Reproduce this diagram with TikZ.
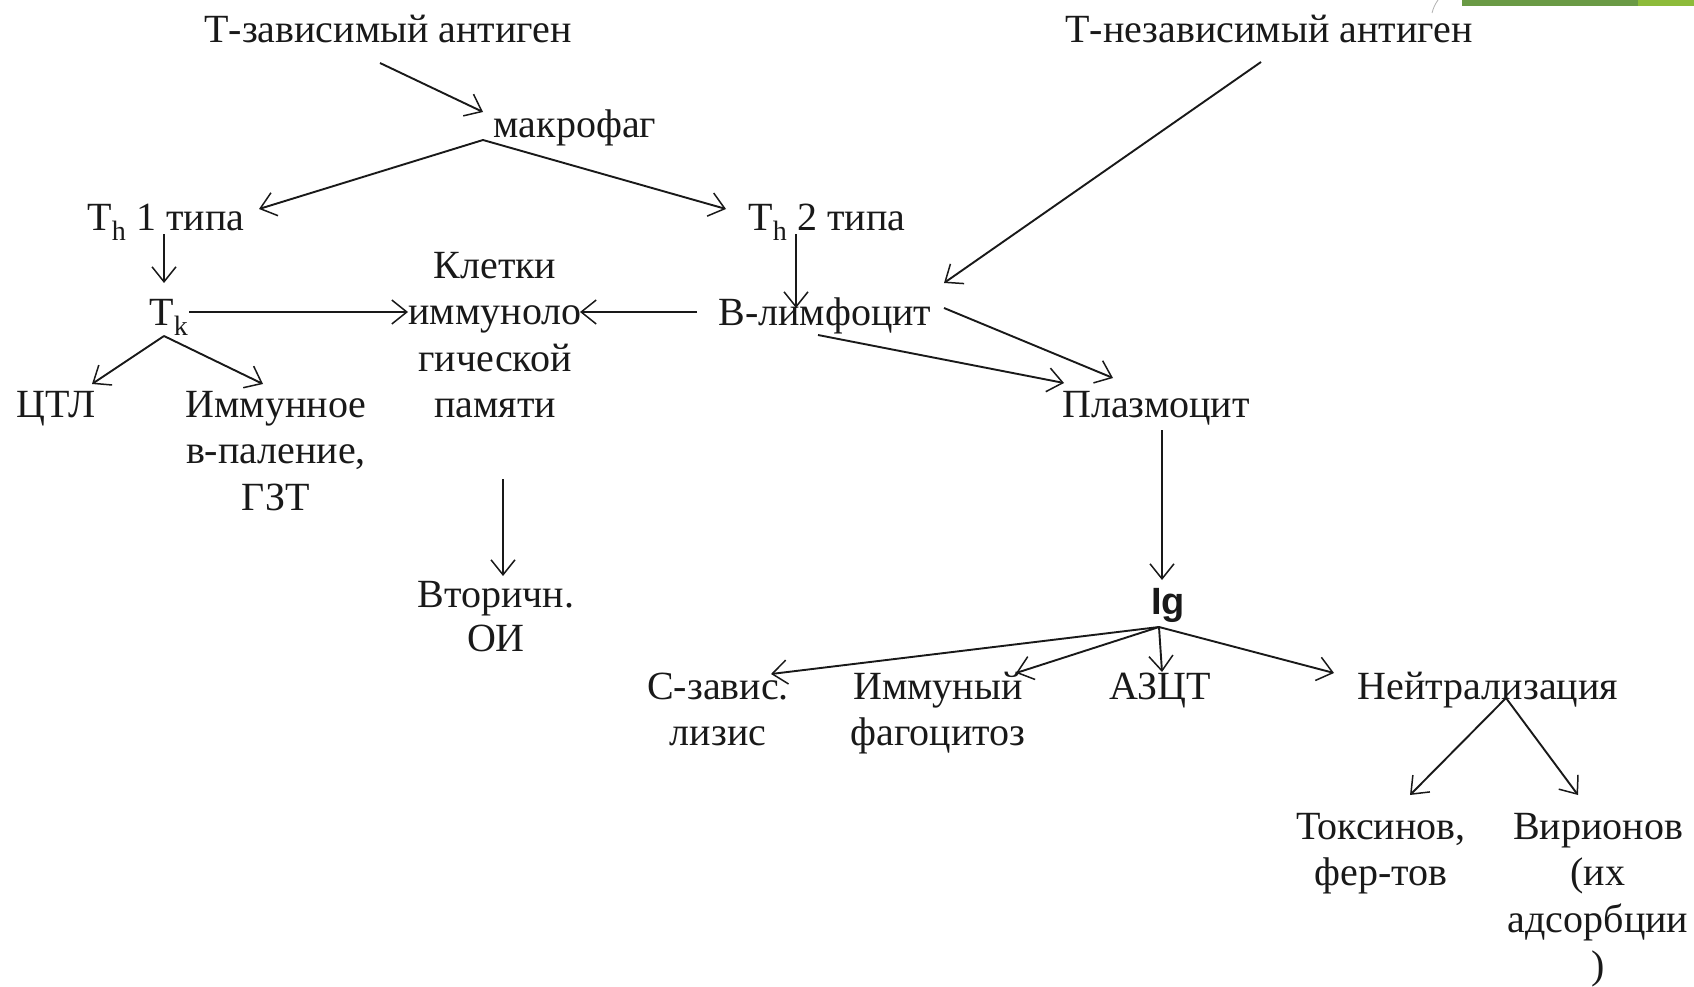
\documentclass[tikz,border=0pt]{standalone}
\usepackage{fontspec}
\setmainfont{Liberation Serif}
\newfontfamily\igfont{Liberation Sans}
\usetikzlibrary{arrows.meta}
\definecolor{bardark}{HTML}{6A9A45}
\definecolor{barlight}{HTML}{8DBB3A}
\begin{document}
\begin{tikzpicture}[x=1pt,y=-1pt,
  lbl/.style={inner sep=0pt, anchor=base, align=center,
    font=\fontsize{40}{46.5}\selectfont, text=black!90},
  arr/.style={-{Straight Barb[length=15pt,width=24pt,line width=1.5pt]},
    line width=1.9pt, black!90}]
\useasboundingbox (0,0) rectangle (1694,987);
\fill[white] (0,0) rectangle (1694,987);

% slide decoration in the top right corner
\fill[bardark] (1462,0) rectangle (1638,6);
\fill[barlight] (1638,0) rectangle (1694,6);
\draw[gray!60, line width=0.8pt] (1432,13) to[bend left=10] (1438,0);

% labels (multi-line labels are placed by the baseline of their last line)
\node[lbl] (tdep) at (388,43) {Т-зависимый антиген};
\node[lbl] (tind) at (1269,43) {Т-независимый антиген};
\node[lbl] (mac)  at (575,138) {макрофаг};
\node[lbl] (th1)  at (166,230) {T\textsubscript{h} 1 типа};
\node[lbl] (th2)  at (827,230) {T\textsubscript{h} 2 типа};
\node[lbl] (tk)   at (169,325) {T\textsubscript{k}};
\node[lbl] (mem)  at (495,417.5) {Клетки\\иммуноло\\гической\\памяти};
\node[lbl] (bl)   at (825,325) {В-лимфоцит};
\node[lbl] (ctl)  at (56,417) {ЦТЛ};
\node[lbl] (inf)  at (276,510) {Иммунное\\в-паление,\\ГЗТ};
\node[lbl] (pl)   at (1156,417) {Плазмоцит};
\node[lbl, font=\fontsize{40}{44}\selectfont] (sec) at (496,651) {Вторичн.\\ОИ};
\node[lbl, font=\igfont\bfseries\fontsize{38}{44}\selectfont] (ig) at (1168,614) {Ig};
\node[lbl] (clys) at (718,745.5) {С-завис.\\лизис};
\node[lbl] (phag) at (938,745.5) {Иммуный\\фагоцитоз};
\node[lbl] (adcc) at (1160,699) {АЗЦТ};
\node[lbl] (neut) at (1488,699) {Нейтрализация};
\node[lbl] (tox)  at (1381,885.5) {Токсинов,\\фер-тов};
\node[lbl] (vir)  at (1598,978.5) {Вирионов\\(их\\адсорбции\\)};

% connector end points
\coordinate (tdepS) at (380,63);
\coordinate (macIn) at (483,112);
\coordinate (macS)  at (483,140);
\coordinate (th1In) at (259,209);
\coordinate (th2In) at (726,209);
\coordinate (th1S)  at (164,234);
\coordinate (tkIn)  at (164,283);
\coordinate (tkE)   at (189,312);
\coordinate (memW)  at (408,312);
\coordinate (memE)  at (580,312);
\coordinate (blW)   at (697,312);
\coordinate (th2S)  at (796,234);
\coordinate (blIn)  at (796,308);
\coordinate (tindS) at (1261,62);
\coordinate (blNE)  at (944,283);
\coordinate (blS)   at (818,335);
\coordinate (blE)   at (944,308);
\coordinate (plW)   at (1064,383);
\coordinate (plN)   at (1113,378);
\coordinate (tkS)   at (164,336);
\coordinate (ctlIn) at (92,384);
\coordinate (infIn) at (263,384);
\coordinate (memS)  at (503,479);
\coordinate (secIn) at (503,576);
\coordinate (plS)   at (1162,430);
\coordinate (igIn)  at (1162,580);
\coordinate (igS)   at (1159,627);
\coordinate (clysIn) at (771,674);
\coordinate (phagIn) at (1016,673);
\coordinate (adccIn) at (1162,672);
\coordinate (neutIn) at (1334,673);
\coordinate (neutS)  at (1506,698);
\coordinate (toxIn)  at (1410,795);
\coordinate (virIn)  at (1578,795);

% connectors
\draw[arr] (tdepS) -- (macIn);
\draw[arr] (macS) -- (th1In);
\draw[arr] (macS) -- (th2In);
\draw[arr] (th1S) -- (tkIn);
\draw[arr] (tkE) -- (memW);
\draw[arr] (blW) -- (memE);
\draw[arr] (th2S) -- (blIn);
\draw[arr] (tindS) -- (blNE);
\draw[arr] (blS) -- (plW);
\draw[arr] (blE) -- (plN);
\draw[arr] (tkS) -- (ctlIn);
\draw[arr] (tkS) -- (infIn);
\draw[arr] (memS) -- (secIn);
\draw[arr] (plS) -- (igIn);
\draw[arr] (igS) -- (clysIn);
\draw[arr] (igS) -- (phagIn);
\draw[arr] (igS) -- (adccIn);
\draw[arr] (igS) -- (neutIn);
\draw[arr] (neutS) -- (toxIn);
\draw[arr] (neutS) -- (virIn);
\end{tikzpicture}
\end{document}
